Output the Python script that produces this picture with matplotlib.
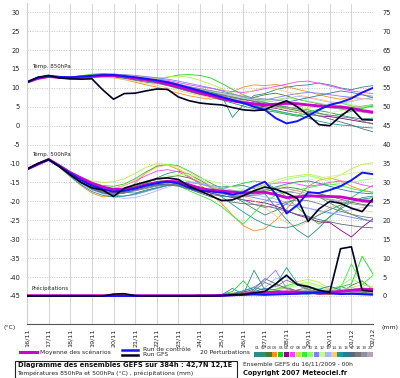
import matplotlib
matplotlib.use("Agg")
import matplotlib.pyplot as plt
from matplotlib.lines import Line2D
from matplotlib.patches import Rectangle

plt.rcParams['axes.unicode_minus'] = False

# time axis: GEFS run 16/11/2009 00h, 12-hourly steps up to 384h
hours = list(range(0, 385, 12))
day_labels = ['16/11', '17/11', '18/11', '19/11', '20/11', '21/11', '22/11', '23/11', '24/11',
              '25/11', '26/11', '27/11', '28/11', '29/11', '30/11', '01/12', '02/12']
left_ticks = list(range(-45, 31, 5))
right_ticks = list(range(0, 76, 5))

# --- Temp 850hPa (degC) ---
t850_mean = [11.5, 12.5, 13.0, 12.8, 12.6, 12.8, 13.0, 13.2, 13.3, 13.0, 12.6, 12.2, 11.8, 11.0, 10.3, 9.6, 8.8, 8.0, 7.2, 6.6, 6.1, 5.8, 5.5, 5.7, 5.9, 5.8, 5.5, 5.2, 5.0, 5.0, 4.6, 4.0, 3.6]
t850_ctl = [11.5, 12.7, 13.1, 12.9, 12.8, 13.0, 13.2, 13.4, 13.4, 13.1, 12.8, 12.4, 12.0, 11.5, 10.8, 10.0, 9.2, 8.4, 7.6, 6.8, 6.0, 5.0, 4.2, 2.0, 0.6, 1.2, 2.6, 4.2, 5.5, 6.2, 7.2, 8.8, 10.0]
t850_gfs = [11.5, 12.8, 13.3, 12.6, 12.4, 12.3, 12.4, 9.5, 7.0, 8.5, 8.6, 9.2, 9.7, 9.6, 7.6, 6.6, 6.0, 5.7, 5.5, 4.8, 4.2, 4.0, 4.2, 5.5, 6.6, 5.0, 2.8, 0.3, 0.0, 2.5, 4.6, 1.6, 1.5]
t850_01 = [11.4, 12.6, 13.2, 12.9, 12.8, 13.1, 13.4, 13.6, 13.5, 13.2, 12.9, 12.4, 12.0, 11.6, 11.0, 10.2, 9.6, 9.0, 8.0, 2.2, 5.5, 8.0, 8.5, 9.5, 10.2, 10.6, 10.8, 11.3, 10.8, 10.0, 9.5, 10.2, 10.6]
t850_02 = [11.6, 12.4, 12.8, 12.6, 12.5, 12.9, 13.1, 13.0, 12.9, 12.5, 12.0, 11.5, 11.2, 10.6, 9.8, 9.0, 8.2, 7.5, 6.8, 6.0, 5.2, 4.5, 4.0, 3.6, 3.0, 2.5, 3.2, 4.0, 3.5, 2.8, 2.2, 1.8, 2.0]
t850_03 = [11.5, 12.3, 12.9, 12.7, 12.4, 12.6, 12.9, 13.0, 13.2, 13.0, 12.8, 12.5, 12.2, 11.7, 11.0, 10.2, 9.4, 8.5, 7.8, 7.2, 6.8, 7.5, 8.2, 8.6, 7.9, 7.0, 6.4, 5.8, 5.0, 4.6, 4.2, 4.8, 5.2]
t850_04 = [11.5, 12.7, 13.1, 12.8, 12.5, 12.6, 12.8, 12.9, 12.7, 12.2, 11.5, 10.8, 10.2, 9.4, 8.6, 7.9, 7.4, 7.0, 7.8, 9.0, 10.2, 10.8, 10.6, 10.9, 10.4, 9.6, 9.0, 8.2, 7.5, 7.0, 7.6, 8.2, 7.8]
t850_05 = [11.6, 12.6, 13.0, 12.9, 12.9, 13.2, 13.6, 13.8, 13.7, 13.4, 13.0, 12.6, 12.4, 12.8, 13.4, 13.5, 13.3, 12.6, 11.2, 9.6, 8.2, 7.0, 6.2, 5.4, 4.9, 4.6, 4.2, 3.4, 2.5, 3.0, 3.8, 4.6, 5.2]
t850_06 = [11.4, 12.5, 12.9, 12.7, 12.6, 12.7, 12.9, 13.1, 13.0, 12.7, 12.2, 11.8, 11.4, 10.8, 10.0, 9.2, 8.4, 7.6, 7.0, 6.4, 5.9, 5.4, 5.0, 4.6, 4.0, 3.5, 3.0, 2.6, 2.4, 2.0, 1.5, 1.0, 0.6]
t850_07 = [11.5, 12.6, 13.1, 12.9, 12.7, 12.9, 13.1, 13.4, 13.5, 13.3, 13.0, 12.8, 12.4, 12.0, 11.4, 10.8, 10.3, 9.9, 9.4, 9.0, 8.8, 9.2, 9.8, 10.4, 11.0, 11.6, 11.8, 11.2, 10.5, 9.8, 9.2, 8.8, 8.5]
t850_08 = [11.5, 12.5, 13.0, 12.8, 12.7, 12.9, 13.2, 13.5, 13.6, 13.4, 13.1, 12.9, 12.5, 12.9, 13.1, 12.8, 12.0, 11.0, 9.8, 8.6, 7.4, 6.4, 5.6, 5.0, 4.4, 4.0, 4.6, 5.2, 5.8, 6.2, 5.6, 5.0, 4.8]
t850_09 = [11.6, 12.4, 12.9, 12.7, 12.5, 12.7, 12.9, 13.2, 13.4, 13.1, 12.7, 12.3, 11.9, 11.3, 10.6, 9.8, 9.0, 8.2, 7.4, 6.6, 6.0, 5.4, 4.6, 3.8, 3.2, 2.8, 3.6, 4.4, 5.6, 6.0, 5.2, 4.6, 5.4]
t850_10 = [11.5, 12.6, 13.0, 12.8, 12.6, 12.8, 13.0, 13.3, 13.2, 12.9, 12.5, 12.1, 11.7, 11.1, 10.5, 10.0, 9.6, 9.0, 8.4, 7.8, 7.2, 6.8, 6.6, 6.9, 7.4, 7.0, 6.5, 6.0, 5.4, 4.8, 4.5, 4.9, 5.6]
t850_11 = [11.4, 12.7, 13.2, 13.0, 12.8, 13.0, 13.2, 13.4, 13.6, 13.5, 13.3, 13.0, 12.7, 12.3, 11.8, 11.2, 10.6, 10.0, 9.2, 8.4, 7.6, 7.0, 6.8, 7.4, 8.0, 8.5, 8.8, 8.6, 8.2, 7.8, 7.5, 7.2, 7.0]
t850_12 = [11.5, 12.5, 13.0, 12.8, 12.6, 12.7, 12.9, 13.1, 13.1, 12.8, 12.4, 12.0, 11.6, 11.0, 10.4, 9.7, 9.0, 8.4, 7.8, 7.2, 6.6, 6.0, 5.4, 4.8, 4.2, 3.6, 3.0, 2.8, 3.4, 4.0, 4.4, 4.0, 3.2]
t850_13 = [11.5, 12.6, 13.1, 12.9, 12.7, 12.9, 13.2, 13.4, 13.5, 13.3, 13.0, 12.6, 12.2, 11.6, 11.0, 10.4, 9.8, 9.2, 8.6, 8.0, 7.4, 6.8, 6.2, 6.6, 7.2, 7.8, 7.4, 6.8, 6.2, 5.8, 6.4, 7.0, 7.6]
t850_14 = [11.5, 12.4, 12.8, 12.6, 12.4, 12.5, 12.7, 12.8, 12.6, 12.2, 11.7, 11.2, 10.7, 10.0, 9.3, 8.6, 8.0, 7.5, 7.2, 7.5, 8.4, 9.4, 10.2, 9.8, 9.0, 8.2, 7.6, 7.0, 6.4, 6.0, 6.6, 7.2, 6.8]
t850_15 = [11.6, 12.6, 13.0, 12.8, 12.7, 12.9, 13.2, 13.3, 13.2, 12.9, 12.5, 12.1, 11.7, 11.2, 10.6, 10.0, 9.2, 8.4, 7.6, 6.8, 6.0, 5.2, 4.6, 4.0, 3.4, 2.8, 2.0, 1.2, 0.6, 0.2, 0.0, -0.4, -0.6]
t850_16 = [11.5, 12.5, 13.0, 12.8, 12.6, 12.8, 13.0, 13.2, 13.2, 12.9, 12.5, 12.1, 11.6, 11.0, 10.2, 9.4, 8.6, 8.0, 7.4, 6.8, 6.2, 5.7, 5.2, 5.6, 6.2, 6.8, 7.4, 8.0, 8.6, 9.2, 8.8, 8.2, 7.4]
t850_17 = [11.5, 12.6, 13.1, 12.9, 12.7, 12.9, 13.1, 13.3, 13.4, 13.1, 12.7, 12.3, 11.9, 11.3, 10.7, 10.1, 9.5, 8.8, 8.2, 7.6, 7.0, 6.4, 5.8, 5.2, 4.6, 4.0, 3.4, 2.6, 1.8, 1.0, 0.2, -0.8, -1.6]
t850_18 = [11.4, 12.5, 13.0, 12.8, 12.6, 12.8, 13.0, 13.2, 13.3, 13.0, 12.6, 12.2, 11.8, 11.2, 10.6, 9.9, 9.2, 8.6, 8.0, 7.4, 6.9, 6.5, 6.1, 5.6, 5.0, 4.4, 3.8, 3.2, 2.8, 2.4, 2.0, 1.2, 0.4]
t850_19 = [11.5, 12.6, 13.0, 12.8, 12.7, 12.9, 13.1, 13.3, 13.3, 13.0, 12.6, 12.2, 11.8, 11.3, 10.8, 10.3, 9.8, 9.3, 8.8, 8.3, 7.8, 7.4, 7.1, 6.8, 6.4, 6.0, 5.6, 5.2, 4.8, 4.4, 4.0, 3.6, 3.2]
t850_20 = [11.5, 12.5, 12.9, 12.7, 12.6, 12.8, 13.0, 13.2, 13.2, 12.9, 12.5, 12.1, 11.7, 11.1, 10.4, 9.7, 9.0, 8.3, 7.7, 7.1, 6.5, 5.9, 5.3, 4.8, 4.6, 5.0, 5.4, 5.8, 5.4, 5.0, 4.8, 5.2, 5.6]

# --- Temp 500hPa (degC) ---
t500_mean = [-11.5, -10.2, -8.9, -10.6, -12.4, -13.8, -15.2, -16.2, -16.8, -16.8, -16.4, -15.6, -15.0, -14.7, -14.8, -15.6, -16.6, -17.0, -17.3, -17.5, -17.8, -17.6, -17.6, -18.2, -19.0, -18.8, -18.6, -18.6, -18.7, -18.8, -19.3, -19.8, -20.0]
t500_ctl = [-11.5, -10.1, -9.0, -10.7, -12.6, -14.4, -15.8, -16.8, -17.4, -17.2, -16.6, -15.8, -15.2, -14.8, -15.2, -16.4, -17.2, -17.4, -17.6, -18.2, -17.6, -16.0, -14.8, -18.0, -23.2, -21.0, -17.6, -17.8, -17.0, -16.0, -14.4, -12.4, -12.8]
t500_gfs = [-11.5, -10.0, -8.9, -10.8, -13.0, -15.0, -16.4, -17.0, -18.7, -16.5, -15.6, -14.8, -14.0, -13.8, -14.2, -16.0, -17.2, -18.5, -19.8, -19.6, -18.5, -17.2, -16.2, -16.8, -17.8, -19.2, -25.3, -22.0, -20.0, -20.5, -21.8, -22.7, -19.3]
t500_01 = [-11.5, -10.0, -8.9, -10.6, -12.6, -14.6, -16.0, -16.8, -17.2, -17.6, -17.8, -17.0, -16.4, -15.8, -15.2, -14.8, -15.2, -15.8, -16.2, -16.0, -15.8, -16.6, -18.0, -21.5, -24.8, -27.6, -29.5, -27.0, -24.0, -22.0, -20.2, -19.0, -18.6]
t500_02 = [-11.5, -10.1, -9.0, -10.8, -13.2, -15.2, -16.8, -17.6, -17.8, -17.4, -16.6, -15.2, -13.8, -12.6, -12.0, -12.8, -14.4, -16.0, -17.2, -18.6, -20.2, -22.0, -23.6, -22.4, -20.6, -19.0, -18.2, -18.8, -20.4, -22.0, -23.4, -24.6, -25.4]
t500_03 = [-11.5, -9.9, -8.8, -10.5, -12.4, -14.2, -15.6, -16.4, -16.8, -16.6, -16.0, -15.0, -14.2, -13.6, -13.2, -13.8, -15.0, -16.4, -17.6, -18.4, -18.8, -18.2, -17.4, -16.8, -16.2, -16.6, -17.4, -18.0, -18.6, -19.4, -20.2, -20.8, -21.2]
t500_04 = [-11.5, -10.0, -9.1, -11.0, -13.4, -15.8, -17.8, -18.8, -18.6, -17.4, -15.2, -12.4, -10.6, -10.4, -11.6, -13.4, -15.6, -18.0, -20.6, -23.6, -26.4, -27.8, -27.2, -25.0, -22.0, -18.8, -16.0, -14.4, -13.8, -14.6, -16.0, -17.0, -17.6]
t500_05 = [-11.5, -10.0, -8.8, -10.4, -12.2, -13.8, -15.0, -15.8, -16.0, -15.4, -14.0, -12.2, -10.8, -10.2, -10.6, -12.0, -13.6, -15.2, -16.6, -16.0, -15.2, -14.6, -15.0, -16.6, -18.8, -21.6, -24.0, -26.0, -24.2, -21.6, -19.0, -17.2, -15.8]
t500_06 = [-11.5, -10.1, -9.0, -10.9, -13.0, -15.0, -16.6, -17.4, -17.6, -17.2, -16.6, -16.0, -15.6, -15.4, -15.6, -16.2, -17.0, -17.8, -18.4, -19.0, -19.6, -20.0, -20.4, -21.2, -22.4, -23.6, -24.4, -25.4, -25.6, -27.6, -29.4, -26.8, -24.6]
t500_07 = [-11.5, -10.0, -8.8, -10.5, -12.4, -14.4, -15.8, -16.6, -16.6, -15.8, -14.6, -13.2, -12.0, -11.6, -12.2, -13.6, -15.0, -16.2, -17.0, -17.6, -17.2, -16.4, -15.6, -15.2, -15.0, -15.4, -16.0, -15.6, -15.0, -14.6, -14.8, -15.6, -16.2]
t500_08 = [-11.5, -9.9, -8.7, -10.2, -12.0, -13.6, -14.6, -15.0, -14.8, -14.0, -12.6, -11.0, -10.0, -10.2, -11.4, -13.0, -14.8, -16.6, -17.8, -18.6, -18.2, -17.0, -15.6, -14.4, -13.6, -13.2, -12.8, -13.4, -14.2, -13.0, -11.4, -10.2, -9.8]
t500_09 = [-11.5, -10.1, -9.0, -10.7, -12.8, -14.8, -16.4, -17.2, -17.4, -16.8, -15.8, -14.8, -14.2, -14.6, -15.8, -17.2, -18.4, -19.6, -21.4, -23.8, -26.0, -23.0, -20.0, -18.4, -17.6, -17.0, -16.4, -15.8, -15.4, -15.8, -16.6, -17.2, -17.6]
t500_10 = [-11.5, -10.0, -8.9, -10.6, -12.6, -14.6, -16.2, -17.0, -17.2, -16.8, -16.2, -15.4, -14.8, -14.4, -14.2, -14.6, -15.4, -16.2, -16.8, -17.2, -17.0, -16.4, -15.8, -15.0, -14.2, -13.6, -13.2, -13.8, -14.8, -15.4, -15.0, -14.4, -14.0]
t500_11 = [-11.5, -10.0, -8.9, -10.7, -12.9, -15.0, -16.8, -17.8, -18.4, -18.6, -18.2, -17.4, -16.6, -15.8, -15.2, -15.0, -15.4, -16.0, -16.8, -17.6, -18.4, -19.0, -19.6, -20.2, -20.8, -21.4, -21.8, -22.4, -23.0, -23.6, -24.2, -24.8, -25.2]
t500_12 = [-11.5, -9.9, -8.8, -10.4, -12.4, -14.2, -15.8, -16.6, -16.8, -16.4, -15.6, -14.8, -14.0, -13.2, -12.8, -13.0, -13.8, -14.6, -15.4, -16.2, -16.8, -17.2, -17.0, -16.4, -15.8, -15.0, -14.4, -13.8, -13.4, -13.0, -12.6, -12.2, -12.0]
t500_13 = [-11.5, -10.0, -9.0, -10.8, -13.0, -15.2, -17.0, -18.0, -18.8, -19.2, -19.0, -18.2, -17.2, -16.2, -15.4, -15.0, -15.2, -15.8, -16.4, -17.0, -17.6, -18.2, -18.8, -19.4, -20.2, -21.0, -21.8, -22.6, -23.2, -22.8, -22.2, -21.6, -21.0]
t500_14 = [-11.5, -10.0, -8.9, -10.6, -12.8, -14.8, -16.2, -16.8, -16.6, -15.8, -14.4, -12.6, -11.0, -10.4, -10.8, -12.2, -14.0, -15.8, -17.2, -18.0, -18.6, -19.8, -21.6, -23.8, -25.6, -26.6, -25.4, -23.4, -21.6, -20.8, -21.6, -22.4, -22.8]
t500_15 = [-11.5, -10.1, -9.1, -11.0, -13.4, -15.6, -17.4, -18.4, -18.8, -18.6, -18.0, -17.2, -16.4, -15.8, -15.4, -15.6, -16.2, -17.2, -18.8, -20.8, -22.8, -24.6, -26.0, -26.8, -27.0, -26.2, -25.0, -23.6, -22.2, -21.0, -20.0, -19.4, -19.0]
t500_16 = [-11.5, -10.0, -8.9, -10.7, -12.9, -15.0, -16.8, -17.8, -18.2, -17.8, -17.0, -16.2, -15.6, -15.4, -15.8, -16.6, -17.6, -18.2, -18.6, -18.8, -18.4, -17.8, -17.0, -16.2, -15.4, -14.8, -14.6, -15.2, -16.0, -16.8, -17.4, -17.8, -18.0]
t500_17 = [-11.5, -10.0, -8.9, -10.7, -12.8, -14.8, -16.4, -17.4, -17.8, -17.6, -17.0, -16.4, -15.8, -15.6, -16.0, -16.8, -17.8, -18.8, -19.6, -20.2, -20.6, -20.8, -21.2, -21.8, -22.6, -23.4, -24.0, -24.8, -25.4, -26.0, -26.4, -26.8, -27.0]
t500_18 = [-11.5, -10.1, -9.0, -10.8, -13.0, -15.0, -16.6, -17.6, -18.0, -17.8, -17.2, -16.6, -16.0, -15.6, -15.4, -15.6, -16.2, -17.0, -17.8, -18.6, -19.6, -20.8, -21.6, -21.0, -20.2, -19.6, -19.8, -20.6, -21.6, -22.6, -23.4, -24.0, -24.4]
t500_19 = [-11.5, -9.9, -8.8, -10.5, -12.6, -14.6, -16.2, -17.0, -17.2, -16.8, -16.2, -15.6, -15.2, -15.0, -15.2, -15.8, -16.6, -17.4, -18.0, -18.4, -18.6, -18.4, -18.0, -17.6, -17.4, -17.8, -18.4, -19.0, -19.6, -20.2, -20.6, -21.0, -21.2]
t500_20 = [-11.5, -10.0, -8.9, -10.6, -12.7, -14.7, -16.3, -17.2, -17.4, -17.0, -16.4, -15.6, -15.0, -14.8, -15.0, -15.6, -16.4, -17.2, -17.8, -18.2, -18.0, -17.4, -16.8, -16.4, -16.6, -17.2, -18.0, -18.8, -19.4, -19.8, -20.0, -20.2, -20.4]

# --- Precipitation (mm) ---
pr_mean = [0.1, 0.1, 0.1, 0.1, 0.1, 0.1, 0.1, 0.1, 0.1, 0.1, 0.1, 0.1, 0.1, 0.1, 0.1, 0.1, 0.1, 0.1, 0.2, 0.3, 0.5, 0.7, 0.9, 1.0, 1.1, 1.0, 0.9, 0.9, 1.0, 1.2, 1.5, 1.8, 1.7]
pr_ctl = [0, 0, 0, 0, 0, 0, 0, 0, 0, 0, 0, 0, 0, 0, 0, 0, 0, 0, 0.1, 0.2, 0.3, 0.4, 0.3, 0.4, 0.5, 0.6, 0.8, 0.9, 0.7, 0.5, 0.6, 0.5, 0.4]
pr_gfs = [0, 0, 0, 0, 0, 0, 0, 0, 0.5, 0.6, 0.1, 0, 0, 0, 0, 0, 0, 0, 0.1, 0.3, 0.4, 0.8, 1.2, 3.2, 5.5, 3.0, 2.5, 1.5, 1.0, 12.5, 13.0, 1.5, 1.2]
pr_01 = [0, 0, 0, 0, 0, 0, 0, 0, 0, 0, 0, 0, 0, 0, 0, 0, 0, 0, 0.3, 2.0, 0.4, 6.8, 1.6, 0.8, 1.2, 0.6, 0.4, 0.8, 1.2, 0.6, 0.4, 0.3, 0.2]
pr_02 = [0, 0, 0, 0, 0, 0, 0, 0, 0, 0, 0, 0, 0, 0, 0, 0, 0.2, 0.4, 0.2, 0.6, 1.2, 0.8, 0.4, 1.6, 2.4, 1.2, 0.6, 0.9, 1.8, 2.6, 1.4, 0.8, 1.0]
pr_03 = [0, 0, 0, 0, 0, 0, 0, 0, 0, 0, 0, 0, 0, 0, 0, 0.1, 0.3, 0.2, 0.1, 0.4, 0.8, 1.2, 0.6, 0.4, 0.8, 1.6, 2.2, 1.4, 0.6, 0.8, 2.8, 4.0, 1.6]
pr_04 = [0, 0, 0, 0, 0, 0, 0, 0, 0, 0, 0, 0, 0, 0, 0, 0, 0, 0, 0.2, 0.8, 0.4, 0.6, 1.2, 0.8, 0.6, 1.4, 1.0, 0.6, 0.4, 0.8, 1.8, 1.2, 0.8]
pr_05 = [0, 0, 0, 0, 0, 0, 0, 0, 0, 0, 0, 0, 0, 0, 0, 0, 0, 0, 0.4, 1.2, 4.0, 1.0, 0.6, 0.8, 1.2, 0.8, 0.6, 1.0, 1.6, 2.4, 3.2, 10.5, 5.8]
pr_06 = [0, 0, 0, 0, 0, 0, 0, 0, 0, 0, 0, 0, 0, 0, 0, 0, 0, 0, 0, 0.2, 0.4, 0.8, 0.6, 0.4, 0.8, 1.2, 0.8, 0.4, 0.6, 1.0, 1.6, 1.2, 0.8]
pr_07 = [0, 0, 0, 0, 0, 0, 0, 0, 0, 0, 0, 0, 0, 0, 0, 0, 0, 0.2, 0.3, 0.4, 0.6, 0.8, 1.0, 0.8, 0.6, 0.5, 0.8, 1.2, 1.6, 1.4, 1.0, 0.8, 0.6]
pr_08 = [0, 0, 0, 0, 0, 0, 0, 0, 0, 0, 0, 0, 0, 0, 0, 0, 0, 0, 0.2, 0.4, 0.8, 1.2, 0.8, 1.4, 2.6, 3.8, 4.4, 3.6, 2.0, 1.4, 2.2, 3.0, 2.4]
pr_09 = [0, 0, 0, 0, 0, 0, 0, 0, 0, 0, 0, 0, 0, 0, 0, 0, 0, 0, 0.1, 0.4, 0.8, 0.6, 1.0, 1.8, 2.8, 3.4, 2.6, 1.8, 1.2, 2.0, 8.5, 3.0, 5.5]
pr_10 = [0, 0, 0, 0, 0, 0, 0, 0, 0, 0, 0, 0, 0, 0, 0, 0, 0, 0, 0.2, 0.3, 0.6, 1.0, 0.8, 1.2, 2.2, 3.2, 3.6, 2.8, 1.6, 2.8, 4.6, 3.2, 2.0]
pr_11 = [0, 0, 0, 0, 0, 0, 0, 0, 0, 0, 0, 0, 0, 0, 0, 0, 0, 0, 0.3, 0.6, 1.2, 2.4, 4.0, 6.8, 2.0, 1.0, 0.6, 0.8, 1.4, 1.0, 0.6, 0.8, 0.4]
pr_12 = [0, 0, 0, 0, 0, 0, 0, 0, 0, 0, 0, 0, 0, 0, 0, 0, 0, 0, 0.1, 0.3, 0.5, 0.8, 1.0, 1.6, 2.0, 2.8, 3.2, 2.4, 1.8, 1.2, 1.6, 2.2, 1.8]
pr_13 = [0, 0, 0, 0, 0, 0, 0, 0, 0, 0, 0, 0, 0, 0, 0, 0, 0, 0, 0.2, 0.4, 0.6, 1.0, 2.2, 4.6, 5.0, 3.0, 1.2, 0.8, 1.0, 1.6, 2.4, 1.2, 0.8]
pr_14 = [0, 0, 0, 0, 0, 0, 0, 0, 0, 0, 0, 0, 0, 0, 0, 0, 0, 0, 0.2, 0.6, 1.0, 0.8, 0.6, 0.8, 1.2, 1.0, 0.8, 1.4, 2.0, 1.6, 1.2, 1.0, 0.8]
pr_15 = [0, 0, 0, 0, 0, 0, 0, 0, 0, 0, 0, 0, 0, 0, 0, 0, 0, 0, 0.2, 0.6, 1.4, 2.2, 1.6, 2.8, 7.5, 3.4, 1.8, 1.0, 0.8, 1.2, 1.6, 1.0, 0.6]
pr_16 = [0, 0, 0, 0, 0, 0, 0, 0, 0, 0, 0, 0, 0, 0, 0, 0, 0, 0, 0.1, 0.3, 0.6, 1.2, 2.0, 1.6, 1.0, 0.8, 1.2, 1.8, 2.6, 1.6, 0.8, 0.6, 0.4]
pr_17 = [0, 0, 0, 0, 0, 0, 0, 0, 0, 0, 0, 0, 0, 0, 0, 0, 0, 0, 0.2, 0.4, 1.0, 1.8, 4.6, 3.2, 2.0, 1.4, 1.0, 0.8, 1.2, 0.8, 0.6, 0.4, 0.6]
pr_18 = [0, 0, 0, 0, 0, 0, 0, 0, 0, 0, 0, 0, 0, 0, 0, 0, 0, 0, 0.1, 0.2, 0.6, 1.4, 3.6, 2.4, 4.2, 3.0, 1.6, 1.0, 0.6, 0.8, 1.4, 1.0, 0.6]
pr_19 = [0, 0, 0, 0, 0, 0, 0, 0, 0, 0, 0, 0, 0, 0, 0, 0, 0, 0, 0.1, 0.3, 0.4, 0.8, 1.2, 1.0, 0.8, 1.2, 1.6, 1.2, 0.8, 1.0, 1.2, 0.8, 0.6]
pr_20 = [0, 0, 0, 0, 0, 0, 0, 0, 0, 0, 0, 0, 0, 0, 0, 0, 0, 0, 0.2, 0.3, 0.5, 0.8, 1.6, 2.6, 1.8, 1.2, 0.8, 0.6, 0.8, 1.0, 0.8, 0.6, 0.4]

member_colors = ['#2e8b8b', '#2f8f6f', '#4b7b2b', '#ff8c1a', '#22cc22', '#8b008b', '#ff40ff',
                 '#b8f040', '#33ee33', '#90ff70', '#7f7fff', '#c8f890', '#a8b8ff', '#ffc880',
                 '#1a9a9a', '#2a7aa0', '#5a6a7a', '#7a7a7a', '#8f8f9f', '#b8a0b8']

t850_members = [t850_01, t850_02, t850_03, t850_04, t850_05, t850_06, t850_07, t850_08, t850_09, t850_10,
                t850_11, t850_12, t850_13, t850_14, t850_15, t850_16, t850_17, t850_18, t850_19, t850_20]
t500_members = [t500_01, t500_02, t500_03, t500_04, t500_05, t500_06, t500_07, t500_08, t500_09, t500_10,
                t500_11, t500_12, t500_13, t500_14, t500_15, t500_16, t500_17, t500_18, t500_19, t500_20]
pr_members = [pr_01, pr_02, pr_03, pr_04, pr_05, pr_06, pr_07, pr_08, pr_09, pr_10,
              pr_11, pr_12, pr_13, pr_14, pr_15, pr_16, pr_17, pr_18, pr_19, pr_20]

MEAN_C = '#cc00cc'
CTL_C = '#1414ff'
GFS_C = '#000022'
W, H = 400, 378

days = [h / 24 for h in hours]

fig = plt.figure(figsize=(W / 100, H / 100), dpi=100)
ax = fig.add_axes([27 / W, 54 / H, 346 / W, 320.5 / H])
ylo, yhi = -52.4, 32.3
ax.set_xlim(0, 16)
ax.set_ylim(ylo, yhi)
ax.set_xticks(range(len(day_labels)))
ax.set_xticklabels(day_labels, rotation=90, fontsize=4.6)
ax.set_yticks(left_ticks)
ax.set_yticklabels([str(v) for v in left_ticks], fontsize=4.8)
ax.tick_params(axis='x', length=0, pad=3, colors='#222222')
ax.tick_params(axis='y', length=0, pad=5, colors='#222222')
ax.grid(axis='x', color='#d6d6de', lw=0.8)
ax.grid(axis='y', color='#c4c4c4', lw=0.7, ls=(0, (1, 1.5)))
ax.set_axisbelow(True)
for s in ['top', 'right']:
    ax.spines[s].set_visible(False)
ax.spines['left'].set_color('#d0d0d8')
ax.spines['bottom'].set_color('#555555')

# precipitation axis (mm), right side
axr = ax.twinx()
axr.set_ylim(ylo + 45, yhi + 45)
axr.set_yticks(right_ticks)
axr.set_yticklabels([str(v) for v in right_ticks], fontsize=4.8)
axr.tick_params(axis='y', length=0, pad=7, colors='#222222')
for s in axr.spines.values():
    s.set_visible(False)

for vals, c in zip(t850_members, member_colors):
    ax.plot(days, vals, color=c, lw=0.6)
for vals, c in zip(t500_members, member_colors):
    ax.plot(days, vals, color=c, lw=0.6)
for vals, c in zip(pr_members, member_colors):
    axr.plot(days, vals, color=c, lw=0.6)

for a, mean, ctl, gfs in [(ax, t850_mean, t850_ctl, t850_gfs), (ax, t500_mean, t500_ctl, t500_gfs),
                          (axr, pr_mean, pr_ctl, pr_gfs)]:
    a.plot(days, mean, color=MEAN_C, lw=2.0)
    a.plot(days, ctl, color=CTL_C, lw=1.4)
    a.plot(days, gfs, color=GFS_C, lw=1.2)

# panel captions, just right of the left axis
lbl_x = 5 / 346 * 16
ax.text(lbl_x, 15.0, 'Temp. 850hPa', fontsize=4, color='#222222', va='bottom')
ax.text(lbl_x, -8.2, 'Temp. 500hPa', fontsize=4, color='#222222', va='bottom')
ax.text(lbl_x, -43.8, 'Précipitations', fontsize=4, color='#222222', va='bottom')


def fx(x):
    return x / W


def fy(y):
    return 1 - y / H


fig.text(fx(4), fy(327), '(°C)', fontsize=4.5, va='center', color='#222222')
fig.text(fx(382), fy(327), '(mm)', fontsize=4.5, va='center', color='#222222')

# legend
fig.add_artist(Line2D([fx(20), fx(37)], [fy(352), fy(352)], color=MEAN_C, lw=2.2))
fig.text(fx(40), fy(352), 'Moyenne des scénarios', fontsize=4.3, va='center', color='#222222')
fig.add_artist(Line2D([fx(122), fx(138)], [fy(349.5), fy(349.5)], color=CTL_C, lw=1.8))
fig.add_artist(Line2D([fx(122), fx(138)], [fy(354.5), fy(354.5)], color=GFS_C, lw=1.8))
fig.text(fx(143), fy(349.5), 'Run de contrôle', fontsize=4.3, va='center', color='#222222')
fig.text(fx(143), fy(354.5), 'Run GFS', fontsize=4.3, va='center', color='#222222')
fig.text(fx(200), fy(353), '20 Perturbations', fontsize=4.3, va='center', color='#222222')
for i, c in enumerate(member_colors):
    x0 = 254 + i * 5.95
    fig.add_artist(Rectangle((fx(x0), fy(356.5)), 5.6 / W, 5 / H, color=c, lw=0))
    fig.text(fx(x0 + 2.9), fy(348), '%02d' % (i + 1), fontsize=2.8, ha='center', va='center', color='#333333')

# info box
fig.add_artist(Rectangle((fx(15), fy(377.5)), 222 / W, 16.5 / H, fill=False, ec='#222222', lw=0.8))
fig.text(fx(18), fy(365.5), 'Diagramme des ensembles GEFS sur 384h : 42,7N 12,1E', fontsize=4.9,
         fontweight='bold', va='center', color='#111111')
fig.text(fx(17), fy(373.5), 'Températures 850hPa et 500hPa (°C) , précipitations (mm)', fontsize=4.3,
         va='center', color='#222222')
fig.text(fx(243), fy(364), 'Ensemble GEFS du 16/11/2009 - 00h', fontsize=4.3, va='center', color='#222222')
fig.text(fx(243), fy(373), 'Copyright 2007 Meteociel.fr', fontsize=4.8, fontweight='bold', va='center',
         color='#111111')

fig.savefig('out.png', dpi=100)
